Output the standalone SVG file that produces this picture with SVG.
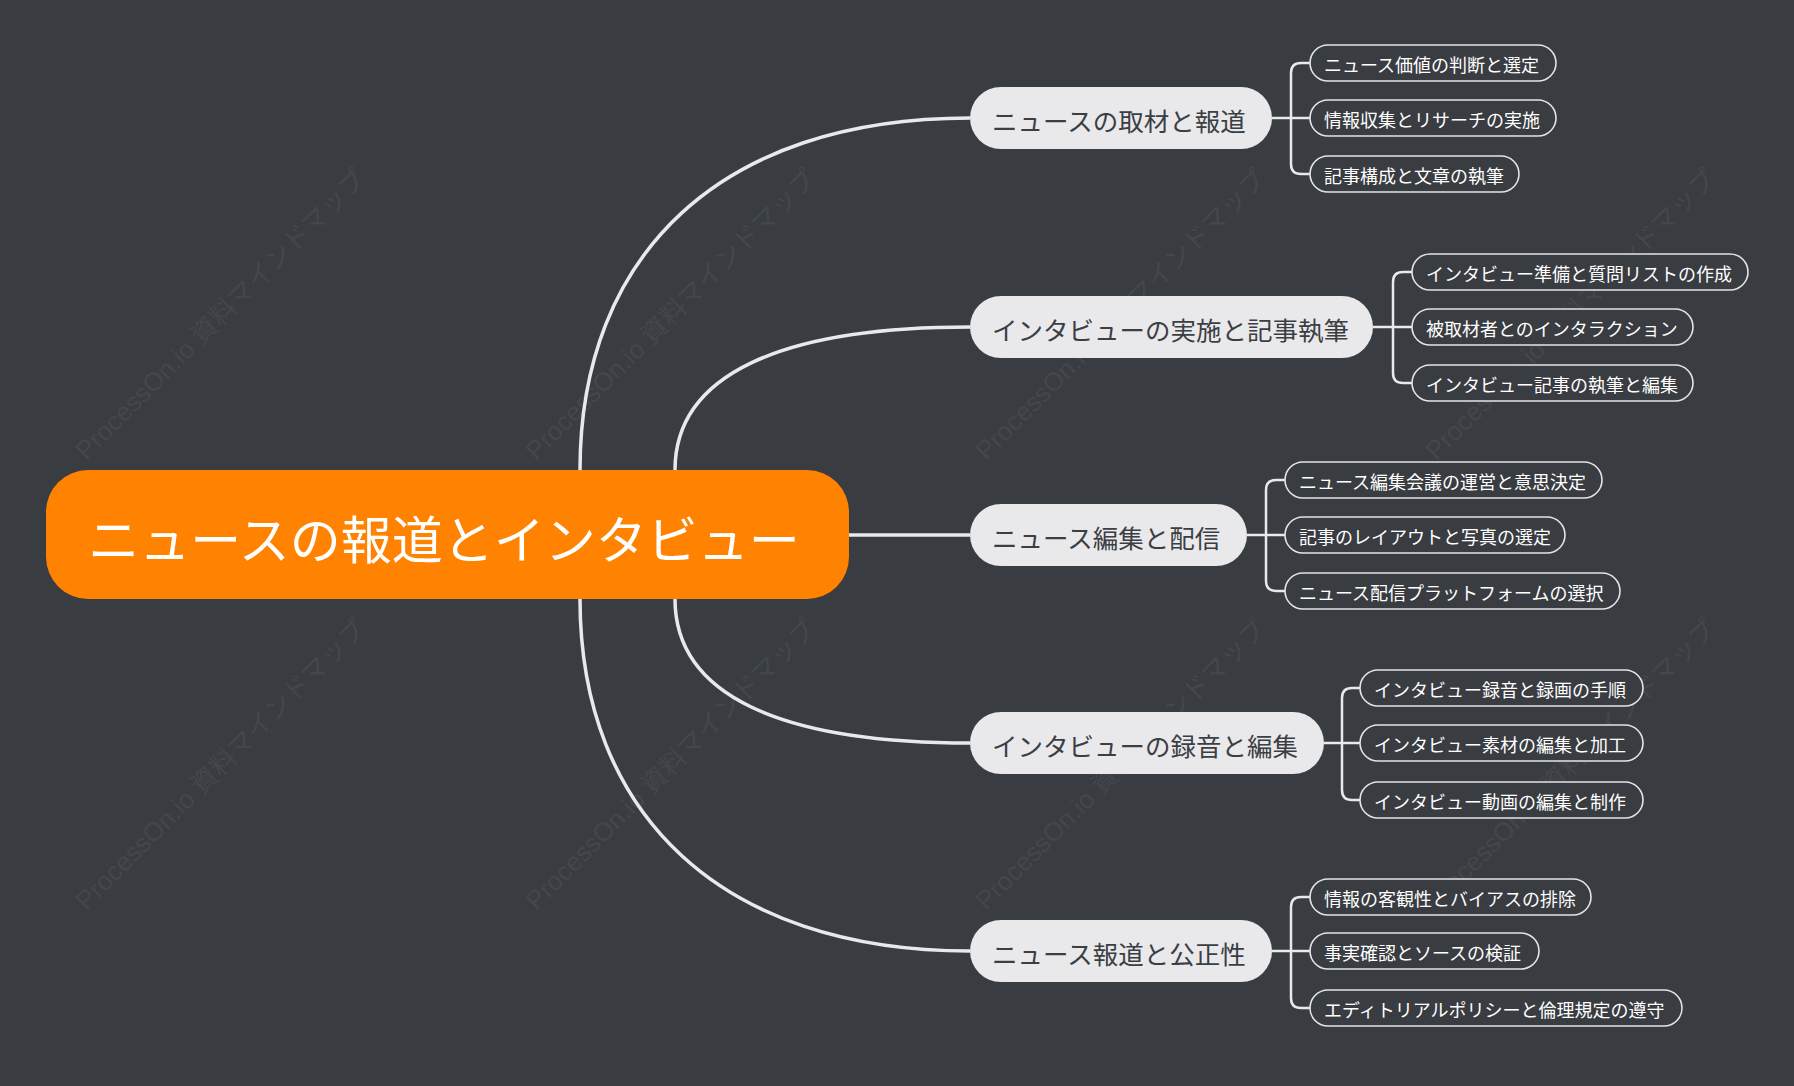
<svg xmlns="http://www.w3.org/2000/svg" width="1794" height="1086" viewBox="0 0 1794 1086">
<style>
text{font-family:"Noto Sans CJK JP","Noto Sans",sans-serif;dominant-baseline:central}
.l1 rect{fill:#e9e9eb}
.l1 text{fill:#3b3e43;font-size:25.5px}
.l2 rect{fill:#393c41;stroke:#e4e4e4;stroke-width:1.6}
.l2 text{fill:#ffffff;font-size:18px}
.c path{fill:none;stroke:#e9e9eb;stroke-width:3.5}
.c .b{stroke-width:2.5}
.wm{fill:#ffffff;opacity:0.05;font-size:26px;font-family:"Liberation Sans","Noto Sans CJK JP",sans-serif}
</style>
<rect width="1794" height="1086" fill="#393c41"/>
<g>
<text class="wm" transform="translate(80,455) rotate(-45)">ProcessOn.io 資料マインドマップ</text>
<text class="wm" transform="translate(530,455) rotate(-45)">ProcessOn.io 資料マインドマップ</text>
<text class="wm" transform="translate(980,455) rotate(-45)">ProcessOn.io 資料マインドマップ</text>
<text class="wm" transform="translate(1430,455) rotate(-45)">ProcessOn.io 資料マインドマップ</text>
<text class="wm" transform="translate(80,905) rotate(-45)">ProcessOn.io 資料マインドマップ</text>
<text class="wm" transform="translate(530,905) rotate(-45)">ProcessOn.io 資料マインドマップ</text>
<text class="wm" transform="translate(980,905) rotate(-45)">ProcessOn.io 資料マインドマップ</text>
<text class="wm" transform="translate(1430,905) rotate(-45)">ProcessOn.io 資料マインドマップ</text>
</g>
<g class="c" id="connectors">
<path d="M580,470 C580,255 720,118 970,118"/>
<path d="M675,470 C675,375 780,327 970,327"/>
<path d="M849,535 H970"/>
<path d="M675,599 C675,695 780,743 970,743"/>
<path d="M580,599 C580,813 720,951 970,951"/>
<path class="b" d="M1272,118 H1310 M1310,63 H1301 Q1291,63 1291,73 V164 Q1291,174 1301,174 H1310"/>
<path class="b" d="M1373,327 H1412 M1412,272 H1403 Q1393,272 1393,282 V373 Q1393,383 1403,383 H1412"/>
<path class="b" d="M1247,535 H1285 M1285,480 H1276 Q1266,480 1266,490 V581 Q1266,591 1276,591 H1285"/>
<path class="b" d="M1324,743 H1360 M1360,688 H1352 Q1342,688 1342,698 V790 Q1342,800 1352,800 H1360"/>
<path class="b" d="M1272,951 H1310 M1310,897 H1301 Q1291,897 1291,907 V998 Q1291,1008 1301,1008 H1310"/>
</g>
<g id="root"><rect x="46" y="470" width="803" height="129" rx="42" fill="#ff8200"/><text x="444" y="537" text-anchor="middle" fill="#fff" font-size="51">ニュースの報道とインタビュー</text></g>
<g class="l1" id="n1"><rect x="970" y="87" width="302" height="62" rx="31"/><text x="992" y="119">ニュースの取材と報道</text></g>
<g class="l1" id="n2"><rect x="970" y="296" width="403" height="62" rx="31"/><text x="992" y="328">インタビューの実施と記事執筆</text></g>
<g class="l1" id="n3"><rect x="970" y="504" width="277" height="62" rx="31"/><text x="992" y="536">ニュース編集と配信</text></g>
<g class="l1" id="n4"><rect x="970" y="712" width="354" height="62" rx="31"/><text x="992" y="744">インタビューの録音と編集</text></g>
<g class="l1" id="n5"><rect x="970" y="920" width="302" height="62" rx="31"/><text x="992" y="952">ニュース報道と公正性</text></g>
<g class="l2" id="n1a"><rect x="1310" y="45" width="246" height="36" rx="18"/><text x="1324" y="64">ニュース価値の判断と選定</text></g>
<g class="l2" id="n1b"><rect x="1310" y="100" width="246" height="36" rx="18"/><text x="1324" y="119">情報収集とリサーチの実施</text></g>
<g class="l2" id="n1c"><rect x="1310" y="156" width="209" height="36" rx="18"/><text x="1324" y="175">記事構成と文章の執筆</text></g>
<g class="l2" id="n2a"><rect x="1412" y="254" width="336" height="36" rx="18"/><text x="1426" y="273">インタビュー準備と質問リストの作成</text></g>
<g class="l2" id="n2b"><rect x="1412" y="309" width="281" height="36" rx="18"/><text x="1426" y="328">被取材者とのインタラクション</text></g>
<g class="l2" id="n2c"><rect x="1412" y="365" width="281" height="36" rx="18"/><text x="1426" y="384">インタビュー記事の執筆と編集</text></g>
<g class="l2" id="n3a"><rect x="1285" y="462" width="317" height="36" rx="18"/><text x="1299" y="481">ニュース編集会議の運営と意思決定</text></g>
<g class="l2" id="n3b"><rect x="1285" y="517" width="280" height="36" rx="18"/><text x="1299" y="536">記事のレイアウトと写真の選定</text></g>
<g class="l2" id="n3c"><rect x="1285" y="573" width="335" height="36" rx="18"/><text x="1299" y="592">ニュース配信プラットフォームの選択</text></g>
<g class="l2" id="n4a"><rect x="1360" y="670" width="283" height="36" rx="18"/><text x="1374" y="689">インタビュー録音と録画の手順</text></g>
<g class="l2" id="n4b"><rect x="1360" y="725" width="283" height="36" rx="18"/><text x="1374" y="744">インタビュー素材の編集と加工</text></g>
<g class="l2" id="n4c"><rect x="1360" y="782" width="283" height="36" rx="18"/><text x="1374" y="801">インタビュー動画の編集と制作</text></g>
<g class="l2" id="n5a"><rect x="1310" y="879" width="281" height="36" rx="18"/><text x="1324" y="898">情報の客観性とバイアスの排除</text></g>
<g class="l2" id="n5b"><rect x="1310" y="933" width="229" height="36" rx="18"/><text x="1324" y="952">事実確認とソースの検証</text></g>
<g class="l2" id="n5c"><rect x="1310" y="990" width="372" height="36" rx="18"/><text x="1324" y="1009">エディトリアルポリシーと倫理規定の遵守</text></g>
</svg>
